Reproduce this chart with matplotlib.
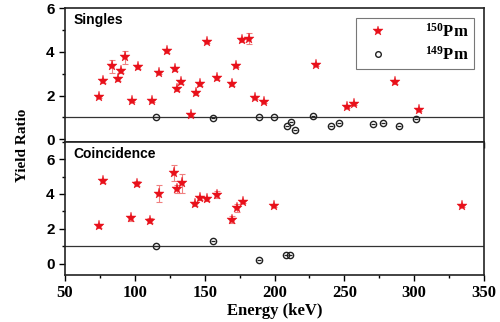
import matplotlib
matplotlib.use('Agg')
import matplotlib.pyplot as plt
from matplotlib.ticker import MultipleLocator

plt.rcParams['mathtext.fontset'] = 'custom'
plt.rcParams['mathtext.rm'] = 'Liberation Serif:bold'
plt.rcParams['mathtext.it'] = 'Liberation Serif:bold'
plt.rcParams['mathtext.bf'] = 'Liberation Serif:bold'

# Singles, 150Pm (stars)
singles_e = [74.3, 77.4, 83.9, 87.7, 90.1, 93.2, 97.7, 102.3, 112.0, 117.3, 123.3, 128.5,
             130.4, 133.0, 140.2, 143.8, 146.9, 151.6, 158.8, 169.5, 172.6, 176.9, 181.7,
             186.0, 192.2, 229.4, 251.6, 257.1, 286.5, 303.6]
singles_r = [1.93, 2.66, 3.33, 2.75, 3.13, 3.75, 1.75, 3.31, 1.75, 3.05, 4.03, 3.22,
             2.30, 2.60, 1.12, 2.10, 2.52, 4.46, 2.79, 2.51, 3.37, 4.55, 4.60,
             1.91, 1.70, 3.42, 1.46, 1.60, 2.61, 1.34]
singles_err = [0.05, 0.08, 0.3, 0.08, 0.08, 0.3, 0.05, 0.08, 0.05, 0.08, 0.08, 0.08,
               0.08, 0.08, 0.05, 0.08, 0.08, 0.08, 0.08, 0.08, 0.08, 0.1, 0.25,
               0.05, 0.05, 0.08, 0.05, 0.05, 0.08, 0.05]

# Singles, 149Pm (circles)
singles149_e = [114.9, 156.2, 189.1, 199.4, 208.7, 211.8, 214.4, 227.3, 240.4, 246.4,
                270.7, 277.4, 288.9, 301.5]
singles149_r = [1.0, 0.98, 1.0, 1.0, 0.6, 0.81, 0.43, 1.06, 0.61, 0.73,
                0.69, 0.73, 0.6, 0.93]

# Coincidence, 150Pm
coin_e = [74.3, 77.4, 97.0, 101.8, 111.1, 117.3, 128.3, 130.2, 133.5, 143.3, 146.9,
          151.4, 158.6, 169.3, 172.9, 177.2, 199.6, 334.2]
coin_r = [2.15, 4.74, 2.61, 4.59, 2.48, 4.02, 5.18, 4.29, 4.61, 3.41, 3.77,
          3.70, 3.96, 2.53, 3.20, 3.56, 3.33, 3.33]
coin_err = [0.1, 0.1, 0.15, 0.15, 0.15, 0.5, 0.45, 0.25, 0.55, 0.1, 0.1,
            0.1, 0.2, 0.2, 0.25, 0.1, 0.1, 0.05]

# Coincidence, 149Pm
coin149_e = [114.9, 155.9, 189.1, 208.2, 211.1]
coin149_r = [1.0, 1.3, 0.2, 0.5, 0.52]

fig = plt.figure(figsize=(5.0, 3.22), dpi=100)
gs = fig.add_gridspec(2, 1, left=0.13, right=0.968, top=0.975, bottom=0.146, hspace=0)
ax1 = fig.add_subplot(gs[0])
ax2 = fig.add_subplot(gs[1], sharex=ax1)


def draw_panel(ax, e, r, err, e149, r149, title):
    ax.axhline(1, color='#333333', lw=0.9, zorder=1)
    ax.errorbar(e, r, yerr=err, fmt='none', ecolor='#f08080', elinewidth=0.8,
                capsize=2.5, capthick=0.8, zorder=2)
    ax.plot(e, r, ls='none', marker='*', color='#e8101a', markersize=8,
            markeredgewidth=0.3, zorder=3, label=r'$^{150}$Pm')
    ax.plot(e149, r149, ls='none', marker='o', mfc='none', mec='#222222',
            markersize=4.5, markeredgewidth=1.0, zorder=3, label=r'$^{149}$Pm')
    ax.plot(e149, r149, ls='none', marker='_', color='#222222',
            markersize=3.5, markeredgewidth=0.9, zorder=3)
    ax.text(0.02, 0.96, title, transform=ax.transAxes, ha='left', va='top',
            fontfamily='Liberation Sans', fontweight='bold', fontsize=10)
    ax.yaxis.set_major_locator(MultipleLocator(2))
    ax.yaxis.set_minor_locator(MultipleLocator(1))
    ax.xaxis.set_major_locator(MultipleLocator(50))
    ax.xaxis.set_minor_locator(MultipleLocator(25))
    ax.tick_params(which='major', direction='out', length=4, width=1)
    ax.tick_params(which='minor', direction='out', length=2.5, width=1)
    for s in ax.spines.values():
        s.set_linewidth(1.2)
        s.set_color('#222222')


draw_panel(ax1, singles_e, singles_r, singles_err, singles149_e, singles149_r, 'Singles')
draw_panel(ax2, coin_e, coin_r, coin_err, coin149_e, coin149_r, 'Coincidence')

ax1.set_xlim(50, 350)
ax1.set_ylim(-0.1, 6)
ax2.set_ylim(-0.63, 7.0)
ax1.set_yticks([0, 2, 4, 6])
ax2.set_yticks([0, 2, 4, 6])
plt.setp(ax1.get_xticklabels(), visible=False)
for ax in (ax1, ax2):
    for lab in ax.get_yticklabels():
        lab.set_fontfamily('Liberation Sans')
        lab.set_fontweight('bold')
        lab.set_fontsize(11)
for lab in ax2.get_xticklabels():
    lab.set_fontfamily('Liberation Serif')
    lab.set_fontweight('bold')
    lab.set_fontsize(12)

ax2.set_xlabel('Energy (keV)', fontfamily='Liberation Serif', fontweight='bold',
               fontsize=12, labelpad=1)
fig.text(0.045, 0.55, 'Yield Ratio', rotation=90, ha='center', va='center',
         fontfamily='Liberation Serif', fontweight='bold', fontsize=11)

leg = ax1.legend(loc='upper right', frameon=True, fancybox=False,
                 prop={'family': 'Liberation Serif', 'weight': 'bold', 'size': 12},
                 handletextpad=1.8, borderpad=0.3, labelspacing=0.3, markerscale=0.9,
                 bbox_to_anchor=(0.995, 0.99))
leg.get_frame().set_edgecolor('#555555')
leg.get_frame().set_linewidth(0.8)

fig.savefig('out.png', dpi=100)
